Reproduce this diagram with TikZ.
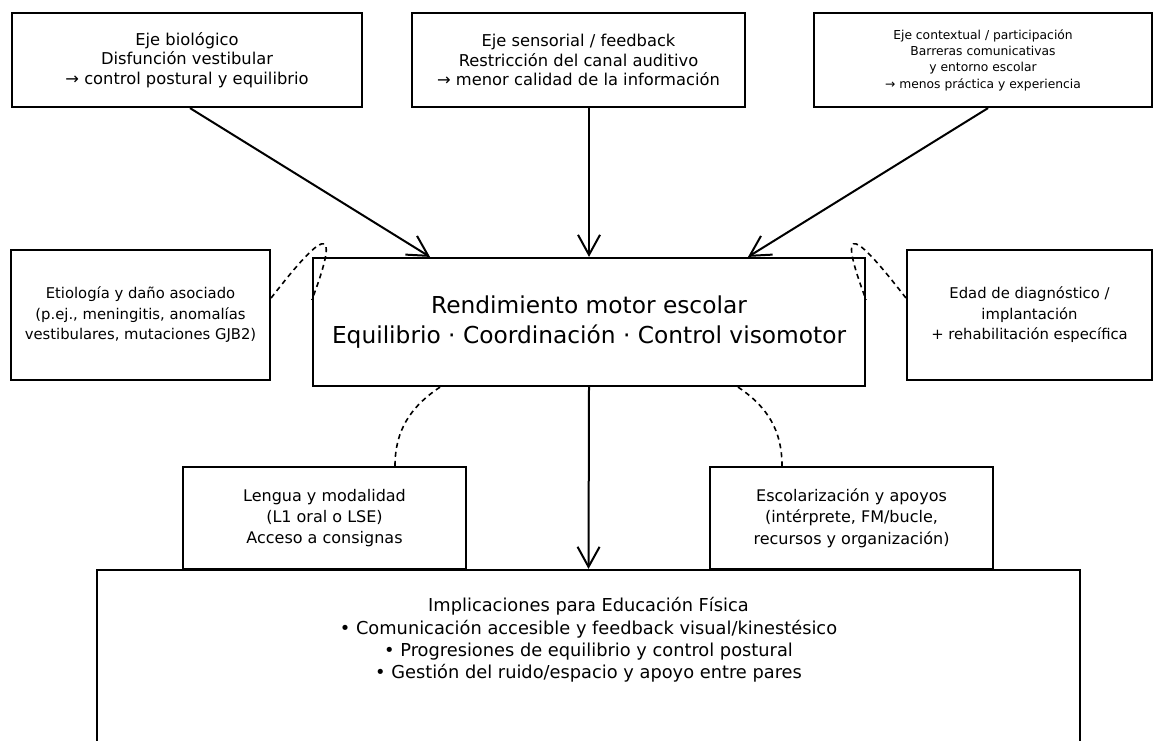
\documentclass[tikz,border=0pt]{standalone}
\usepackage{fontspec}
\setmainfont{DejaVu Sans}
\usetikzlibrary{arrows.meta,calc}
\newcommand{\SetSize}[2]{\fontsize{#1}{#2}\selectfont}

\tikzset{
  box/.style={draw, line width=2.2pt, inner sep=0pt, align=center},
  flow/.style={-{Straight Barb[length=20pt,width=22pt]}, line width=2pt},
  link/.style={dash pattern=on 5pt off 4pt, line width=1.6pt},
}

\begin{document}
\begin{tikzpicture}[x=1pt,y=-1pt]
		\useasboundingbox (0,0) rectangle (1153,740);
		
		% Define nodes
		\node[box, minimum width=350pt, minimum height=94pt, font=\SetSize{16.3}{19.6}] (bio) at (187,60)
			{Eje biológico\\Disfunción vestibular\\→ control postural y equilibrio};
		\node[box, minimum width=333pt, minimum height=94pt, font=\SetSize{16.3}{19.6}] (sens) at (578.5,60)
			{Eje sensorial / feedback\\Restricción del canal auditivo\\→ menor calidad de la información};
		\node[box, minimum width=338pt, minimum height=94pt, font=\SetSize{12.3}{16.4}] (ctx) at (983,60)
			{Eje contextual / participación\\Barreras comunicativas\\y entorno escolar\\→ menos práctica y experiencia};
		\node[box, minimum width=259pt, minimum height=130pt, font=\SetSize{14.8}{20.5}] (etio) at (140.5,315)
			{Etiología y daño asociado\\(p.ej., meningitis, anomalías\\vestibulares, mutaciones GJB2)};
		\node[box, minimum width=552pt, minimum height=128pt, font=\SetSize{23.3}{29.4}] (motor) at (589,322)
			{Rendimiento motor escolar\\Equilibrio · Coordinación · Control visomotor};
		\node[box, minimum width=245pt, minimum height=130pt, font=\SetSize{14.8}{20.5}] (edad) at (1029.5,315)
			{Edad de diagnóstico /\\implantación\\+ rehabilitación específica};
		\node[box, minimum width=283pt, minimum height=102pt, font=\SetSize{16}{21.3}] (leng) at (324.5,518)
			{Lengua y modalidad\\(L1 oral o LSE)\\Acceso a consignas};
		\node[box, minimum width=283pt, minimum height=102pt, font=\SetSize{16}{21.3}] (esco) at (851.5,518)
			{Escolarización y apoyos\\(intérprete, FM/bucle,\\recursos y organización)};
		\node[box, minimum width=983pt, minimum height=180pt] (impl) at (588.5,660) {};
		\node[align=center, inner sep=0pt, font=\SetSize{17.8}{22.4}] (impltxt) at (588.5,640)
			{Implicaciones para Educación Física\\• Comunicación accesible y feedback visual/kinestésico\\• Progresiones de equilibrio y control postural\\• Gestión del ruido/espacio y apoyo entre pares};
		
		% Connect the nodes
		\draw[flow] ($(bio.south)+(3,0)$) -- ($(motor.north)+(-159,0)$);
		\draw[flow] (sens.south -| motor.north) -- (motor.north);
		\draw[flow] ($(ctx.south)+(5,0)$) -- ($(motor.north)+(159,0)$);
		\draw[flow] (motor.south) -- (impl.north);
		
		% Moderators
		\draw[link] ($(etio.east)+(0,-17)$) .. controls +(48,-62) and +(32,-85) .. ($(motor.west)+(0,-22)$);
		\draw[link] ($(edad.west)+(0,-17)$) .. controls +(-48,-62) and +(-32,-85) .. ($(motor.east)+(0,-22)$);
		\draw[link] ($(motor.south)+(-149,0)$) .. controls +(-30,20) and +(0,-35) .. ($(leng.north)+(70.5,0)$);
		\draw[link] ($(motor.south)+(149,0)$) .. controls +(30,20) and +(0,-35) .. ($(esco.north)+(-69.5,0)$);
	\end{tikzpicture}
\end{document}
